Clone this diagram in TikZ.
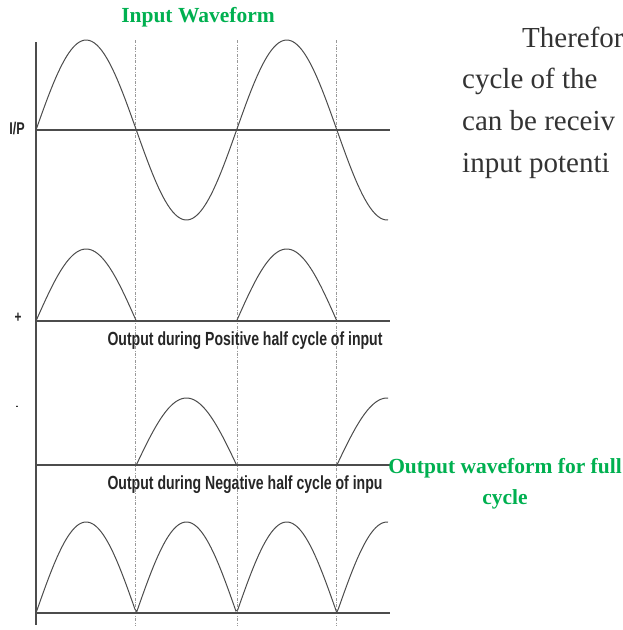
\documentclass[tikz,border=0pt]{standalone}
\usepackage{fontspec}
\setmainfont{Liberation Serif}
\newfontfamily\narrowsans[FakeStretch=0.74]{Liberation Sans}
\definecolor{titlegreen}{RGB}{0,176,80}
\definecolor{textgray}{RGB}{51,51,51}

\begin{document}
\begin{tikzpicture}[x=1pt,y=-1pt,
  wave/.style={gray!60!black,line width=1pt},
  zeroline/.style={gray!60!black,line width=2.4pt},
  guide/.style={gray!80,line width=0.6pt,dash pattern=on 3pt off 1.5pt on 0.8pt off 1.5pt},
  lbl/.style={font=\narrowsans\bfseries\fontsize{19}{22}\selectfont,text=black!85},
  heading/.style={font=\bfseries\fontsize{21.5}{31}\selectfont,text=titlegreen},
  para/.style={font=\fontsize{29}{34}\selectfont,text=textgray,anchor=base west,inner sep=0pt}]
\useasboundingbox (0,0) rectangle (623,630);

% guides and axes
\foreach \gx in {135,237,336} \draw[guide] (\gx,40) -- (\gx,625);
\draw[gray!60!black,line width=1.4pt] (36,42) -- (36,625);
\foreach \gy in {130,321,465,613} \draw[zeroline] (36,\gy) -- (390,\gy);

% input (half period 100.3, 180/100.3 = 1.7946)
\draw[wave,domain=36:388,samples=140] plot (\x,{130-90*sin(1.7946*(\x-36))});
% positive half
\draw[wave,domain=36:136,samples=50] plot (\x,{321-72*sin(1.7946*(\x-36))});
\draw[wave,domain=237:337,samples=50] plot (\x,{321-72*sin(1.7946*(\x-36))});
% negative half
\draw[wave,domain=136:237,samples=50] plot (\x,{465+67*sin(1.7946*(\x-36))});
\draw[wave,domain=337:388,samples=30] plot (\x,{465+67*sin(1.7946*(\x-36))});
% full wave
\draw[wave,domain=36:388,samples=200] plot (\x,{613-91*abs(sin(1.7946*(\x-36)))});

\node[heading] (ti) at (198,17) {Input Waveform};
\node[heading,align=center] (fw) at (505,484) {Output waveform for full\\cycle};

\node[lbl,font=\narrowsans\bfseries\fontsize{17}{18}\selectfont] (ip) at (17,129) {I/P};
\node[lbl,font=\narrowsans\bfseries\fontsize{16}{18}\selectfont] (pl) at (18,318) {+};
\node[lbl,font=\narrowsans\bfseries\fontsize{10}{12}\selectfont] (mi) at (17,408) {-};
\node[lbl,anchor=west] (pos) at (104,341) {Output during Positive half cycle of input};
\node[lbl,anchor=west] (neg) at (104,485) {Output during Negative half cycle of inpu};

\node[para] (p1) at (522,47) {Therefor};
\node[para] (p2) at (462,88.5) {cycle of the};
\node[para] (p3) at (462,130) {can be receiv};
\node[para] (p4) at (462,172) {input potenti};
\end{tikzpicture}
\end{document}
